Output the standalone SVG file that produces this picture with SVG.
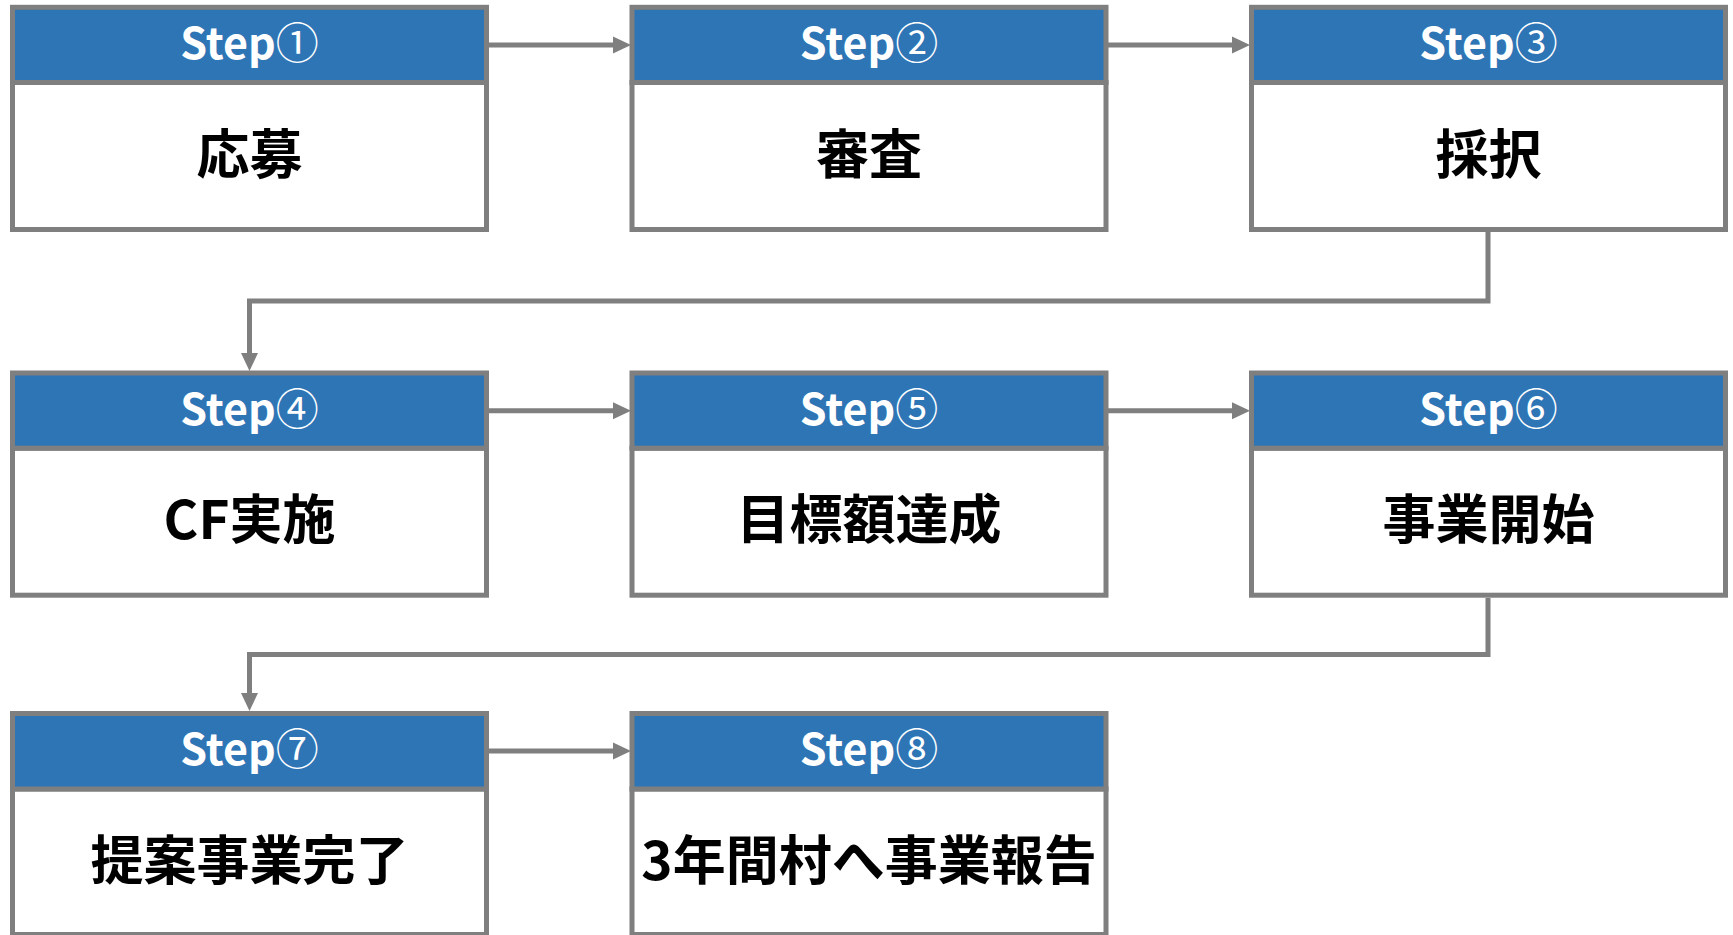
<svg xmlns="http://www.w3.org/2000/svg" width="1733" height="935" viewBox="0 0 1733 935">
<defs>
<style>
.hdr{fill:#2E75B6;stroke:#7F7F7F;stroke-width:5}
.body{fill:#FFFFFF;stroke:#7F7F7F;stroke-width:5}
.ht{font-family:"Noto Sans CJK JP","Liberation Sans",sans-serif;font-weight:bold;font-size:43px;fill:#FFFFFF;text-anchor:middle}
.cd{font-weight:normal}
.bt{font-family:"Noto Sans CJK JP","Liberation Sans",sans-serif;font-weight:bold;font-size:53px;fill:#000000;text-anchor:middle}
.con{fill:none;stroke:#7F7F7F;stroke-width:5;marker-end:url(#ah)}
</style>
<marker id="ah" markerUnits="userSpaceOnUse" markerWidth="18" markerHeight="17" refX="0" refY="8.5" orient="auto" overflow="visible">
<path d="M0,0 L18,8.5 L0,17 Z" fill="#7F7F7F"/>
</marker>
</defs>
<rect width="1733" height="935" fill="#FFFFFF"/>
<g id="connectors">
<path class="con" d="M488,45 H613"/>
<path class="con" d="M1107,45 H1232"/>
<path class="con" d="M1488,232 V301 H249.5 V353"/>
<path class="con" d="M488,410.7 H613"/>
<path class="con" d="M1107,410.7 H1232"/>
<path class="con" d="M1488,598 V654.5 H249.5 V693"/>
<path class="con" d="M488,751 H613"/>
</g>
<g id="step1">
<rect class="body" x="12.5" y="82.5" width="474" height="147"/>
<rect class="hdr" x="12.5" y="7.3" width="474" height="75.2"/>
<text class="ht" x="249.5" y="59">Step<tspan class="cd">①</tspan></text>
<text class="bt" x="249.5" y="173.5">応募</text>
</g>
<g id="step2">
<rect class="body" x="632" y="82.5" width="474" height="147"/>
<rect class="hdr" x="632" y="7.3" width="474" height="75.2"/>
<text class="ht" x="869" y="59">Step<tspan class="cd">②</tspan></text>
<text class="bt" x="869" y="173.5">審査</text>
</g>
<g id="step3">
<rect class="body" x="1251.5" y="82.5" width="474" height="147"/>
<rect class="hdr" x="1251.5" y="7.3" width="474" height="75.2"/>
<text class="ht" x="1488.5" y="59">Step<tspan class="cd">③</tspan></text>
<text class="bt" x="1488.5" y="173.5">採択</text>
</g>
<g id="step4">
<rect class="body" x="12.5" y="448.2" width="474" height="147"/>
<rect class="hdr" x="12.5" y="373" width="474" height="75.2"/>
<text class="ht" x="249.5" y="424.7">Step<tspan class="cd">④</tspan></text>
<text class="bt" x="249.5" y="539.2">CF実施</text>
</g>
<g id="step5">
<rect class="body" x="632" y="448.2" width="474" height="147"/>
<rect class="hdr" x="632" y="373" width="474" height="75.2"/>
<text class="ht" x="869" y="424.7">Step<tspan class="cd">⑤</tspan></text>
<text class="bt" x="869" y="539.2">目標額達成</text>
</g>
<g id="step6">
<rect class="body" x="1251.5" y="448.2" width="474" height="147"/>
<rect class="hdr" x="1251.5" y="373" width="474" height="75.2"/>
<text class="ht" x="1488.5" y="424.7">Step<tspan class="cd">⑥</tspan></text>
<text class="bt" x="1488.5" y="539.2">事業開始</text>
</g>
<g id="step7">
<rect class="body" x="12.5" y="789" width="474" height="145.5"/>
<rect class="hdr" x="12.5" y="713.5" width="474" height="75.5"/>
<text class="ht" x="249.5" y="765">Step<tspan class="cd">⑦</tspan></text>
<text class="bt" x="249.5" y="879.5">提案事業完了</text>
</g>
<g id="step8">
<rect class="body" x="632" y="789" width="474" height="145.5"/>
<rect class="hdr" x="632" y="713.5" width="474" height="75.5"/>
<text class="ht" x="869" y="765">Step<tspan class="cd">⑧</tspan></text>
<text class="bt" x="869" y="879.5">3年間村へ事業報告</text>
</g>
</svg>
